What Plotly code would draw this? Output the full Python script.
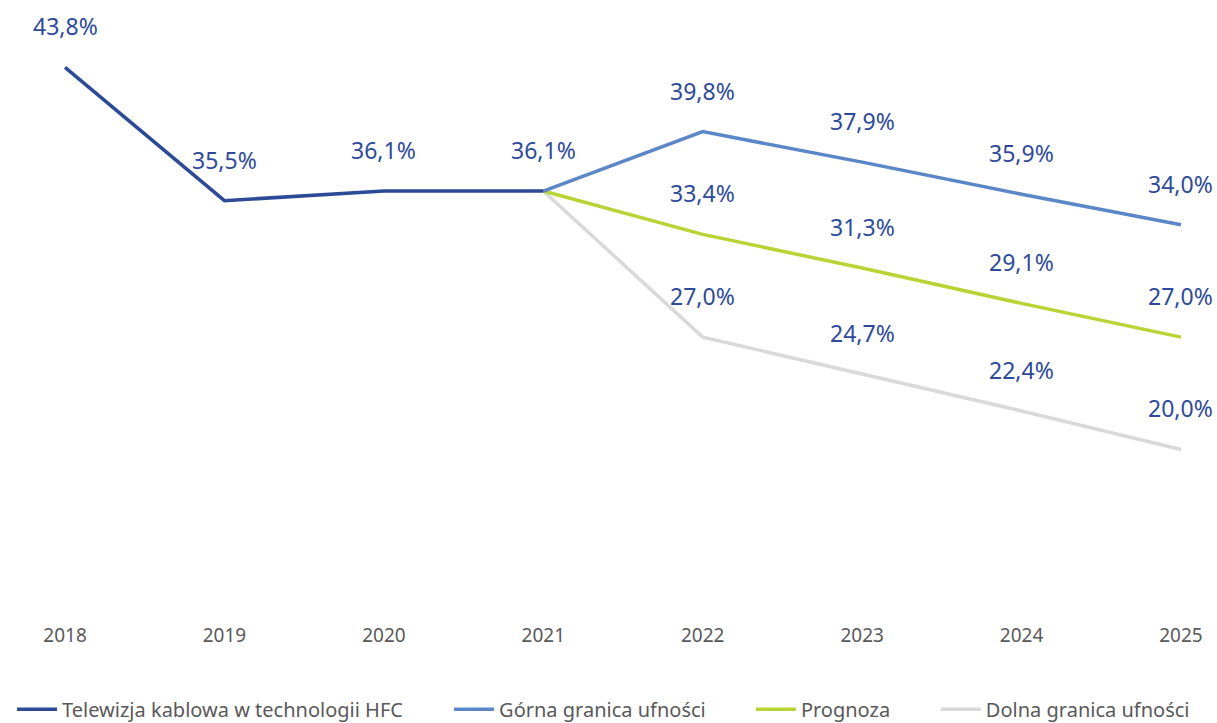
import plotly.graph_objects as go

years = ["2018", "2019", "2020", "2021", "2022", "2023", "2024", "2025"]

hist_years = ["2018", "2019", "2020", "2021"]
hist_values = [43.8, 35.5, 36.1, 36.1]

fc_years = ["2021", "2022", "2023", "2024", "2025"]
upper_values = [36.1, 39.8, 37.9, 35.9, 34.0]
forecast_values = [36.1, 33.4, 31.3, 29.1, 27.0]
lower_values = [36.1, 27.0, 24.7, 22.4, 20.0]

names = ["Telewizja kablowa w technologii HFC", "Górna granica ufności",
         "Prognoza", "Dolna granica ufności"]
colors = ["#2D4A97", "#5B87C8", "#B8D434", "#D9D9D9"]
label_color = "#2E4A9A"
text_grey = "#595959"

# left edge of each legend entry, in paper fraction
legend_x = [0.0099, 0.369, 0.617, 0.769]
legend_ids = ["legend", "legend2", "legend3", "legend4"]

year_idx = {y: i for i, y in enumerate(years)}

fig = go.Figure()

series = [
    (hist_years, hist_values, 0),
    (fc_years, upper_values, 1),
    (fc_years, forecast_values, 2),
    (fc_years, lower_values, 3),
]

# draw forecasts first so the historical line sits on top
for xs, vals, k in [series[3], series[2], series[1], series[0]]:
    fig.add_trace(go.Scatter(
        x=[year_idx[y] for y in xs], y=vals, mode="lines",
        name=names[k], legend=legend_ids[k],
        line=dict(color=colors[k], width=3.5),
        hoverinfo="skip",
    ))


def fmt(v):
    return f"{v:.1f}".replace(".", ",") + "%"


annotations = []
for xs, vals, k in series:
    for y, v in zip(xs, vals):
        if k > 0 and y == "2021":
            continue
        annotations.append(dict(
            x=year_idx[y], y=v, xref="x", yref="y", text=fmt(v),
            showarrow=False, yshift=41, xanchor="center", yanchor="middle",
            font=dict(family="Noto Sans", size=23, color=label_color),
        ))

legend_style = dict(
    orientation="h", xanchor="left", y=-0.1625, yanchor="middle",
    font=dict(family="Noto Sans", size=20, color=text_grey),
    itemwidth=40, bgcolor="rgba(0,0,0,0)",
)
legends = {lid: dict(legend_style, x=lx) for lid, lx in zip(legend_ids, legend_x)}

fig.update_layout(
    width=1217, height=723,
    margin=dict(l=0, r=0, t=0, b=113, autoexpand=False),
    paper_bgcolor="white", plot_bgcolor="white",
    showlegend=True,
    annotations=annotations,
    **legends,
)

fig.update_xaxes(
    range=[-0.408, 7.226],
    tickmode="array", tickvals=list(range(len(years))), ticktext=years,
    showgrid=False, zeroline=False, showline=False,
    tickfont=dict(family="Noto Sans", size=19, color=text_grey),
    ticks="", ticklabelstandoff=12,
)
fig.update_yaxes(
    range=[10, 48], visible=False, showgrid=False, zeroline=False,
)

fig.write_html("out.html")
